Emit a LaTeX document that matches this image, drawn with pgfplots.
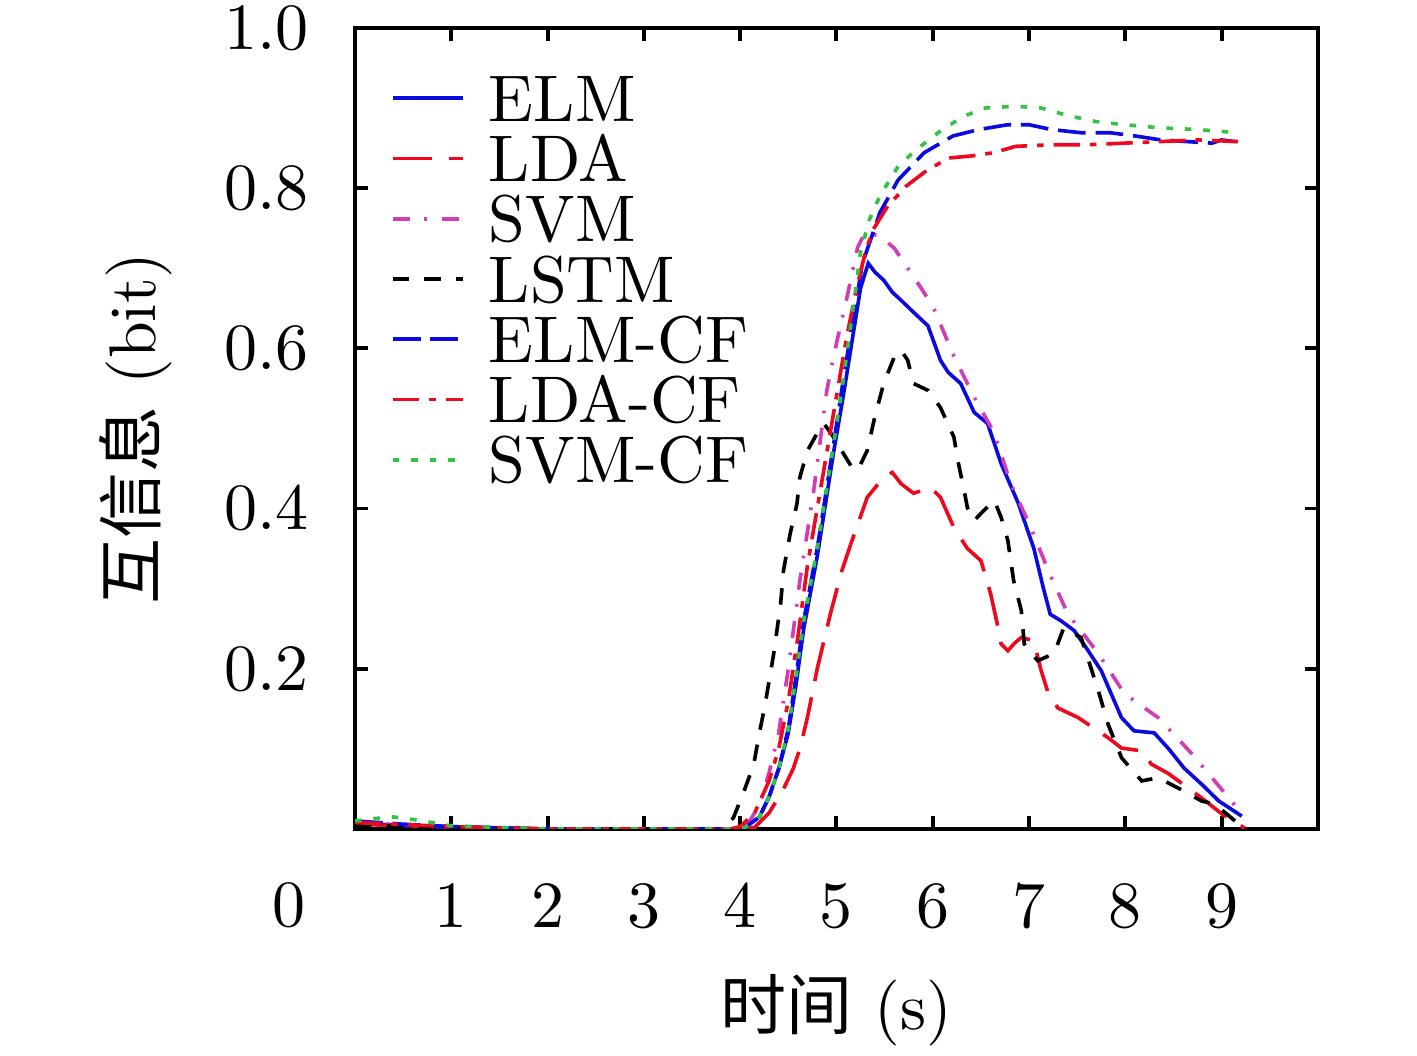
\documentclass[border=0pt]{standalone}
\usepackage{fontspec}
\newfontfamily\cjk{Noto Sans CJK SC}
\usepackage{pgfplots}
\pgfplotsset{compat=1.18}
\definecolor{cblue}{RGB}{10,10,225}
\definecolor{cred}{RGB}{238,10,30}
\definecolor{cmag}{RGB}{210,60,180}
\definecolor{cgreen}{RGB}{50,195,70}
\begin{document}
\begin{tikzpicture}
\begin{axis}[name=ax, scale only axis, width=145.9pt, height=121.4pt,
 xmin=0, xmax=10, ymin=0, ymax=1,
 xtick={1,2,3,4,5,6,7,8,9}, ytick={0.2,0.4,0.6,0.8,1.0},
 yticklabel style={/pgf/number format/fixed,/pgf/number format/fixed zerofill,/pgf/number format/precision=1, xshift=-3.5pt},
 tick align=inside, major tick length=2pt,
 axis line style={line width=0.6pt},
 every tick/.style={line width=0.6pt, black},
 xticklabel style={yshift=-5pt},
 xlabel={{\cjk 时间} (s)},
 ylabel={{\cjk 互信息} (bit)},
 xlabel style={at={(axis description cs:0.5,-0.2257)}, anchor=center},
 ylabel style={at={(axis description cs:-0.228,0.5)}, anchor=center},
 legend style={at={(0.036,0.941)}, anchor=north west, draw=none, fill=none,
   inner sep=0pt, row sep=2.3pt,
   nodes={inner sep=0pt, text height=6.83pt, text depth=0pt},
   /tikz/every odd column/.append style={column sep=3.7pt}},
 legend cell align=left,
 legend image code/.code={\draw[#1] (0pt,0.1pt) -- (10.6pt,0.1pt);},
 every axis plot/.append style={line width=0.55pt, mark=none},
]
% ELM
\addplot[cblue] coordinates {(0,0.008) (0.5,0.004) (1,0.002) (1.5,0.001) (2,0) (3,0) (3.9,0) (4.05,0.002) (4.2,0.015) (4.3,0.04) (4.4,0.075) (4.5,0.12) (4.58,0.18) (4.66,0.25) (4.8,0.34) (4.97,0.47) (5.07,0.54) (5.15,0.6) (5.25,0.675) (5.33,0.706) (5.4,0.695) (5.49,0.685) (5.58,0.67) (5.67,0.66) (5.8,0.645) (5.95,0.628) (6.02,0.605) (6.08,0.585) (6.16,0.57) (6.29,0.556) (6.43,0.52) (6.57,0.506) (6.71,0.456) (6.89,0.406) (7.05,0.35) (7.15,0.3) (7.22,0.268) (7.33,0.26) (7.47,0.2475) (7.6,0.225) (7.75,0.1975) (7.96,0.139) (8.09,0.1225) (8.3,0.12) (8.45,0.1) (8.61,0.076) (8.8,0.055) (8.97,0.035) (9.21,0.016)};
\addlegendentry{ELM}
% LDA
\addplot[cred, dash pattern=on 6pt off 2.5pt] coordinates {(0,0.006) (0.5,0.004) (1,0.003) (1.5,0.001) (2,0) (4.0,0) (4.15,0.002) (4.3,0.02) (4.45,0.05) (4.55,0.075) (4.62,0.1) (4.7,0.14) (4.8,0.2) (4.94,0.27) (5.05,0.32) (5.15,0.356) (5.32,0.414) (5.49,0.439) (5.58,0.445) (5.67,0.431) (5.8,0.419) (5.98,0.426) (6.08,0.414) (6.22,0.376) (6.36,0.35) (6.5,0.335) (6.6,0.294) (6.67,0.256) (6.71,0.231) (6.78,0.2225) (6.85,0.232) (6.92,0.239) (7.05,0.235) (7.12,0.2) (7.2,0.169) (7.3,0.151) (7.51,0.139) (7.82,0.114) (7.96,0.101) (8.17,0.0975) (8.27,0.081) (8.45,0.069) (8.79,0.039) (9.0,0.019) (9.24,0.001)};
\addlegendentry{LDA}
% SVM
\addplot[cmag, dash pattern=on 2.6pt off 2.2pt on 0.4pt off 2.2pt] coordinates {(0,0.008) (1,0.003) (2,0) (3.95,0) (4.1,0.01) (4.2,0.03) (4.3,0.07) (4.4,0.12) (4.5,0.2) (4.62,0.31) (4.76,0.419) (4.9,0.5475) (5.0,0.606) (5.11,0.664) (5.22,0.726) (5.3,0.745) (5.45,0.74) (5.6,0.725) (5.74,0.70) (5.88,0.675) (6.01,0.65) (6.22,0.59) (6.43,0.539) (6.64,0.494) (6.81,0.431) (7.02,0.376) (7.2,0.3225) (7.4,0.269) (7.72,0.219) (7.99,0.169) (8.34,0.139) (8.69,0.094) (8.9,0.064) (9.21,0.019)};
\addlegendentry{SVM}
% LSTM
\addplot[black, dash pattern=on 2.5pt off 2.3pt] coordinates {(0,0.005) (1,0.002) (2,0) (3.8,0) (3.93,0.014) (4.03,0.044) (4.14,0.08) (4.2,0.12) (4.26,0.156) (4.35,0.22) (4.42,0.281) (4.45,0.3225) (4.52,0.369) (4.59,0.406) (4.62,0.439) (4.7,0.4725) (4.8,0.494) (4.87,0.506) (4.97,0.489) (5.07,0.469) (5.18,0.4475) (5.25,0.455) (5.32,0.4725) (5.39,0.51) (5.49,0.556) (5.6,0.589) (5.67,0.5975) (5.74,0.585) (5.8,0.556) (5.95,0.5475) (6.08,0.526) (6.22,0.489) (6.26,0.46) (6.32,0.426) (6.36,0.401) (6.43,0.385) (6.53,0.3975) (6.64,0.41) (6.71,0.389) (6.78,0.36) (6.84,0.31) (6.92,0.2725) (6.95,0.231) (7.09,0.21) (7.26,0.219) (7.36,0.251) (7.45,0.245) (7.54,0.239) (7.72,0.1725) (7.82,0.131) (7.96,0.089) (8.17,0.06) (8.34,0.064) (8.55,0.051) (8.79,0.035) (8.93,0.031) (9.14,0.01)};
\addlegendentry{LSTM}
% ELM-CF
\addplot[cblue, dash pattern=on 4.2pt off 1.5pt] coordinates {(0,0.01) (0.5,0.006) (1,0.003) (2,0) (3.9,0) (4.05,0.002) (4.2,0.015) (4.3,0.04) (4.4,0.075) (4.5,0.125) (4.58,0.19) (4.66,0.26) (4.8,0.35) (4.97,0.48) (5.07,0.56) (5.15,0.62) (5.27,0.706) (5.45,0.769) (5.64,0.81) (5.91,0.844) (6.21,0.865) (6.48,0.873) (6.78,0.879) (7.0,0.879) (7.23,0.873) (7.54,0.869) (7.84,0.869) (8.1,0.865) (8.37,0.86) (8.9,0.856) (9.0,0.86) (9.13,0.858) (9.2,0.858)};
\addlegendentry{ELM-CF}
% LDA-CF
\addplot[cred, dash pattern=on 4pt off 1.5pt on 1pt off 1.5pt] coordinates {(0,0.008) (1,0.003) (2,0) (3.9,0) (4.0,0.003) (4.15,0.02) (4.3,0.06) (4.4,0.1) (4.5,0.16) (4.6,0.24) (4.7,0.33) (4.8,0.4) (4.9,0.47) (5.0,0.54) (5.1,0.61) (5.2,0.67) (5.3,0.72) (5.38,0.748) (5.53,0.777) (5.72,0.802) (5.95,0.823) (6.17,0.8375) (6.4,0.84) (6.63,0.844) (6.86,0.852) (7.23,0.854) (7.61,0.854) (7.99,0.856) (8.37,0.858) (8.75,0.86) (9.17,0.858)};
\addlegendentry{LDA-CF}
% SVM-CF
\addplot[cgreen, dash pattern=on 1pt off 1.8pt] coordinates {(0,0.01) (0.2,0.013) (0.4,0.015) (0.6,0.012) (0.8,0.008) (1.0,0.004) (1.5,0.002) (2,0) (3.9,0) (4.05,0.002) (4.2,0.015) (4.3,0.04) (4.4,0.075) (4.5,0.125) (4.58,0.19) (4.66,0.26) (4.8,0.35) (4.97,0.48) (5.07,0.56) (5.15,0.63) (5.25,0.72) (5.34,0.76) (5.45,0.79) (5.64,0.827) (5.83,0.848) (6.1,0.873) (6.33,0.89) (6.55,0.9) (6.86,0.902) (7.12,0.9) (7.42,0.89) (7.69,0.883) (7.99,0.879) (8.37,0.875) (8.75,0.873) (9.17,0.869)};
\addlegendentry{SVM-CF}
\end{axis}
\node[anchor=center] at ([xshift=-10pt,yshift=-11.5pt]ax.south west) {0};
\pgfresetboundingbox
\path[use as bounding box] ([xshift=-53.79pt,yshift=-34.39pt]ax.south west) rectangle ++(214.7pt,160pt);
\end{tikzpicture}
\end{document}
